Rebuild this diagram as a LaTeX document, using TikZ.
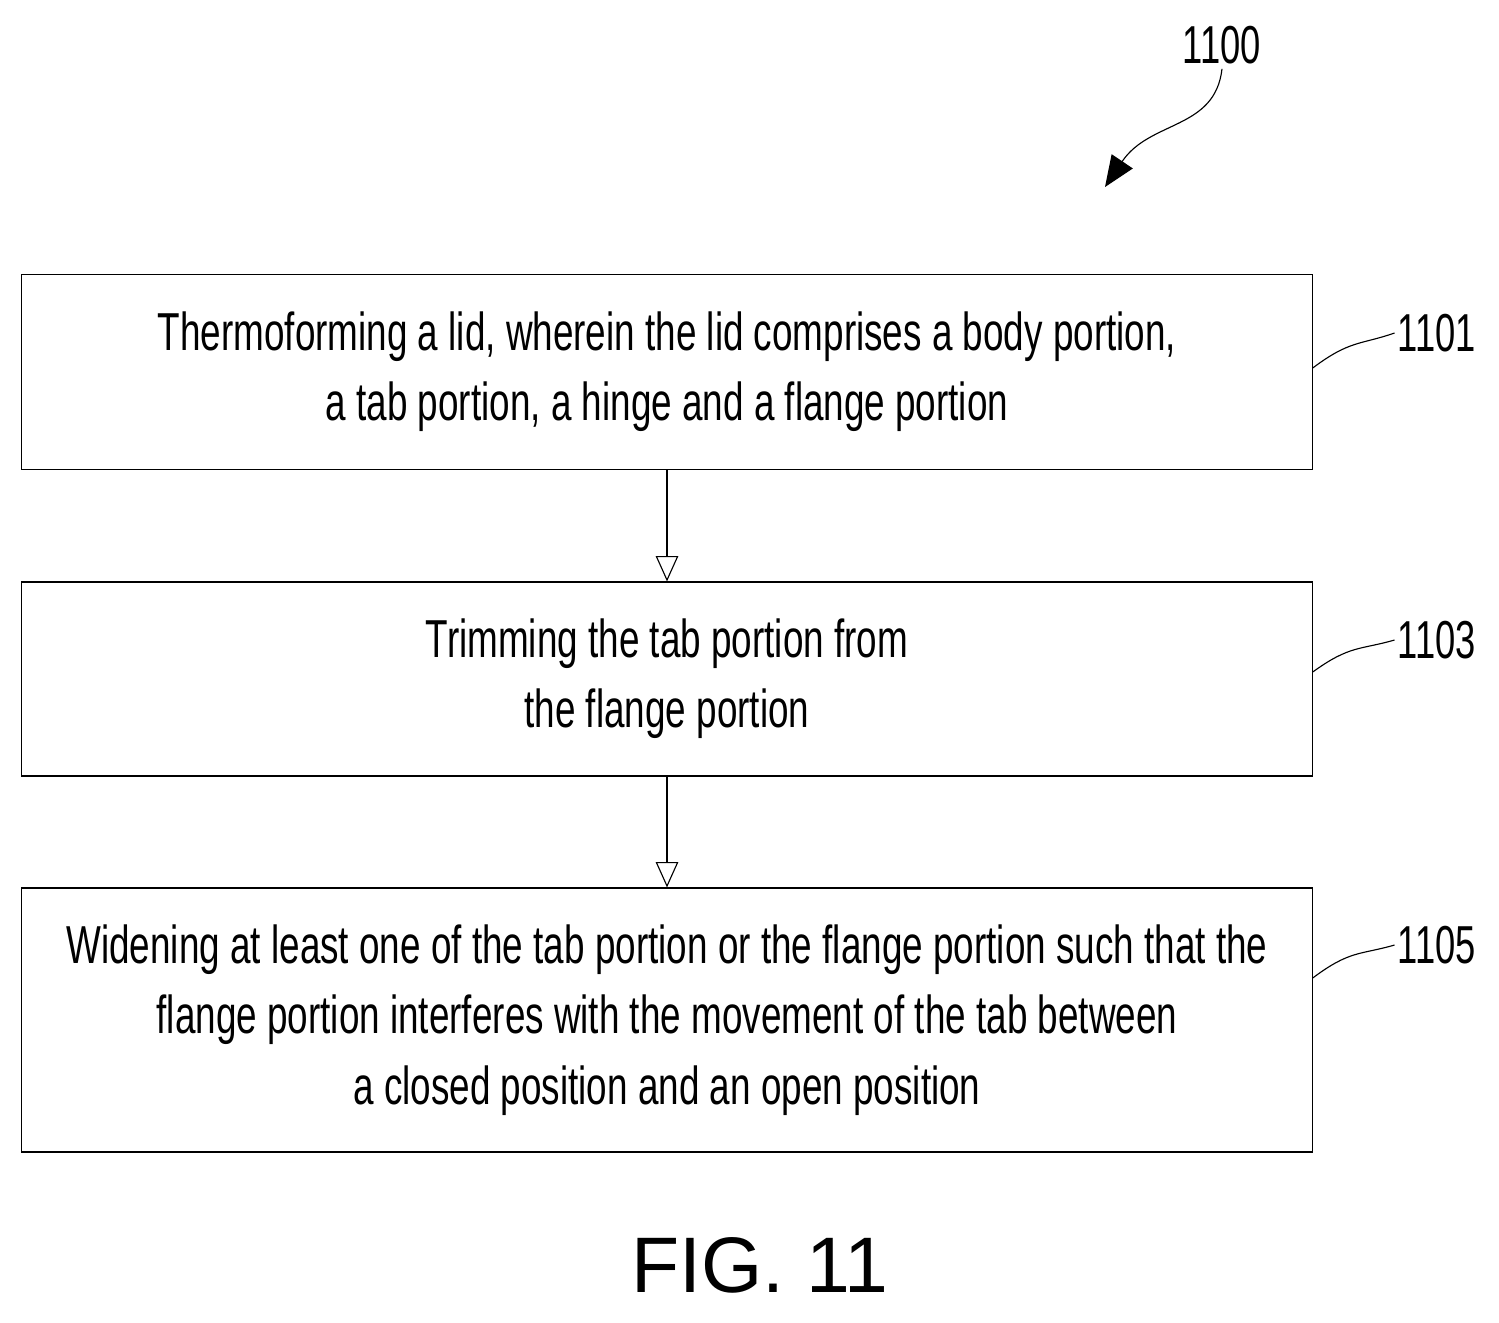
\documentclass[tikz,border=0pt]{standalone}
\usepackage{fontspec}
\setmainfont{Liberation Sans}
\usetikzlibrary{arrows.meta,positioning}
\tikzset{step/.style={draw,thick,minimum width=32.25cm,minimum height=#1,inner sep=0pt},
         steptext/.style={font=\fontsize{38}{50}\selectfont,align=center,xscale=0.69,transform shape},
         ref/.style={font=\fontsize{38}{44}\selectfont,xscale=0.68,transform shape},
         flow/.style={-{Triangle[length=18pt,width=16pt,open]},thick}}
\begin{document}
\begin{tikzpicture}[x=0.025cm,y=-0.025cm]
  \useasboundingbox (0,0) rectangle (1499,1322);
  \node[step=4.875cm] (s1) at (667,372) {};
  \node[step=4.85cm] (s2) at (667,679) {};
  \node[step=6.6cm] (s3) at (667,1020) {};
  \node[steptext] at (s1) {Thermoforming a lid, wherein the lid comprises a body portion,\\a tab portion, a hinge and a flange portion};
  \node[steptext] at (s2) {Trimming the tab portion from\\the flange portion};
  \node[steptext] at (s3) {Widening at least one of the tab portion or the flange portion such that the\\flange portion interferes with the movement of the tab between\\a closed position and an open position};
  \draw[flow] (s1) -- (s2);
  \draw[flow] (s2) -- (s3);
  % reference numerals
  \node[ref] (r1) at (1437,333) {1101};
  \node[ref] (r3) at (1437,640) {1103};
  \node[ref] (r5) at (1437,945) {1105};
  \node[ref] (r0) at (1222,45) {1100};
  \draw[thick] (s1.east |- 0,368) .. controls (1350,340) and (1360,345) .. (r1.west);
  \draw[thick] (s2.east |- 0,672) .. controls (1350,645) and (1360,650) .. (r3.west);
  \draw[thick] (s3.east |- 0,978) .. controls (1350,950) and (1360,955) .. (r5.west);
  \draw[thick,-{Triangle[length=22pt,width=18pt]}] (r0.south) .. controls (1215,130) and (1150,120) .. (1105,187);
  \node[font=\fontsize{56}{64}\selectfont] (fig) at (760,1265) {FIG. 11};
\end{tikzpicture}
\end{document}
